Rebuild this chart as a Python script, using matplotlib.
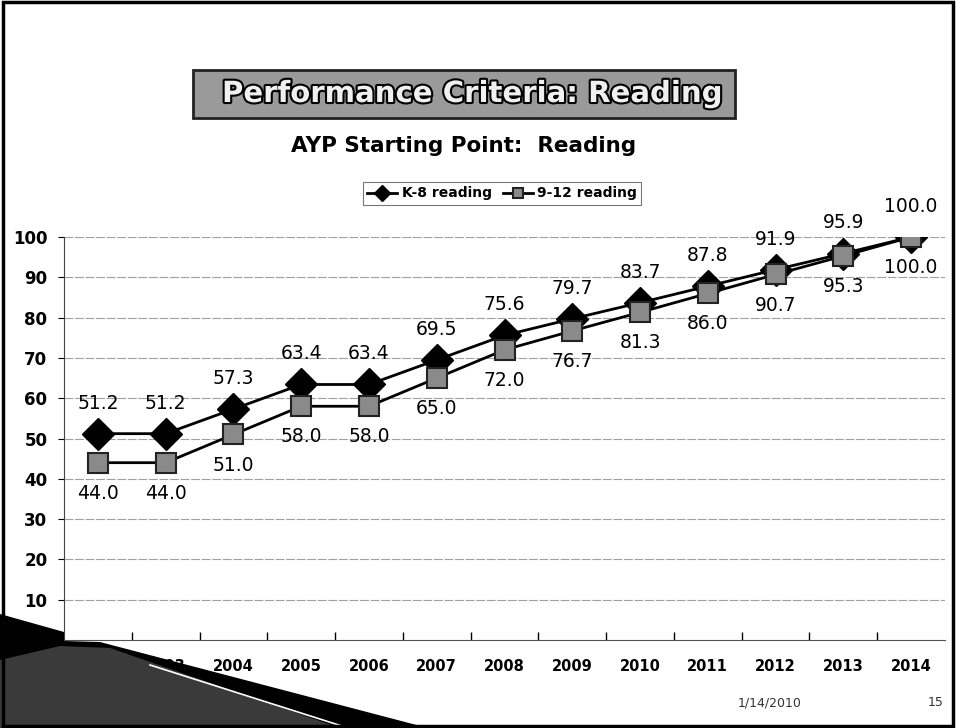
import matplotlib
matplotlib.use('Agg')
import matplotlib.pyplot as plt
import matplotlib.patheffects as pe
from matplotlib.patches import Polygon, Rectangle

# Données
annees = ['2002', '2003', '2004', '2005', '2006', '2007', '2008',
          '2009', '2010', '2011', '2012', '2013', '2014']
k8_lecture = [51.2, 51.2, 57.3, 63.4, 63.4, 69.5, 75.6, 79.7, 83.7, 87.8, 91.9, 95.9, 100.0]
lecture_9_12 = [44.0, 44.0, 51.0, 58.0, 58.0, 65.0, 72.0, 76.7, 81.3, 86.0, 90.7, 95.3, 100.0]
y_ticks = [10, 20, 30, 40, 50, 60, 70, 80, 90, 100]

W, H = 956, 728


def fx(x):
    return x / W


def fy(y):
    return 1 - y / H


fig = plt.figure(figsize=(W / 100, H / 100), dpi=100)
fig.patch.set_facecolor('white')

# Axes principal
ax = fig.add_axes([fx(64), fy(640), fx(945) - fx(64), fy(237) - fy(640)])
x = list(range(len(annees)))
ax.set_xlim(-0.5, len(annees) - 0.5)
ax.set_ylim(0, 100)
ax.set_yticks(y_ticks)
ax.set_yticklabels([str(v) for v in y_ticks], fontsize=12, fontweight='bold')
ax.set_xticks(x)
ax.set_xticklabels(annees, fontsize=10.5, fontweight='bold')
ax.set_xticks([i + 0.5 for i in x[:-1]], minor=True)
ax.tick_params(axis='x', which='major', length=0, pad=14)
ax.tick_params(axis='x', which='minor', length=6, direction='in', width=1)
ax.tick_params(axis='y', length=4, direction='out', pad=8)
ax.grid(axis='y', color='#a0a0a0', linewidth=0.8, linestyle=(0, (8, 1.5)))
ax.set_axisbelow(True)
for s in ['top', 'right']:
    ax.spines[s].set_visible(False)
ax.spines['left'].set_color('#444444')
ax.spines['bottom'].set_color('#555555')

ax.plot(x, k8_lecture, color='black', lw=2, marker='D', ms=16,
        markerfacecolor='black', markeredgecolor='black', label='K-8 reading', zorder=3)
ax.plot(x, lecture_9_12, color='black', lw=2, marker='s', ms=15,
        markerfacecolor='#8a8a8a', markeredgecolor='#222222', mew=1.5,
        label='9-12 reading', zorder=4)

for xi, v in zip(x, k8_lecture):
    ax.annotate(f'{v:.1f}', (xi, v), xytext=(0, 22), textcoords='offset points',
                ha='center', va='center', fontsize=13.5)
for xi, v in zip(x, lecture_9_12):
    ax.annotate(f'{v:.1f}', (xi, v), xytext=(0, -22), textcoords='offset points',
                ha='center', va='center', fontsize=13.5)

leg = ax.legend(loc='center', bbox_to_anchor=((502 - 64) / 881, 1 + (237 - 193.5) / 403), ncol=2,
                frameon=True, fancybox=False, edgecolor='#555555',
                handlelength=2.2, handletextpad=0.3,
                columnspacing=0.8, borderpad=0.3, markerscale=0.5,
                prop={'weight': 'bold', 'size': 10})
leg.get_frame().set_linewidth(0.8)

# Titre du graphique
fig.text(fx(464), fy(146), 'AYP Starting Point:  Reading', ha='center', va='center',
         fontsize=15.5, fontweight='bold')

# Bandeau titre de la diapositive
fig.patches.append(Rectangle((fx(193), fy(118)), fx(735) - fx(193), fy(70) - fy(118),
                             transform=fig.transFigure, facecolor='#9a9a9a',
                             edgecolor='#222222', linewidth=2, zorder=1))
fig.text(fx(472), fy(94), 'Performance Criteria: Reading', ha='center', va='center',
         fontsize=21, fontweight='bold', color='#f0f0f0',
         path_effects=[pe.withStroke(linewidth=3, foreground='black')], zorder=2)

# Décor coin inférieur gauche
coin = Polygon([(fx(0), fy(614)), (fx(64), fy(632)), (fx(64), fy(641)), (fx(100), fy(642)),
                (fx(428), fy(728)), (fx(0), fy(728))],
               closed=True, transform=fig.transFigure, facecolor='black',
               edgecolor='none', zorder=5)
fig.patches.append(coin)
coin2 = Polygon([(fx(0), fy(660)), (fx(60), fy(646)), (fx(110), fy(648)),
                 (fx(340), fy(728)), (fx(0), fy(728))],
                closed=True, transform=fig.transFigure, facecolor='#3a3a3a',
                edgecolor='none', zorder=6)
fig.patches.append(coin2)
fig.lines.append(plt.Line2D([fx(150), fx(345)], [fy(665), fy(727)],
                            transform=fig.transFigure, color='white', lw=1.2, zorder=7))

# Pied de page
fig.text(fx(770), fy(703), '1/14/2010', ha='center', va='center', fontsize=9, color='#333333')
fig.text(fx(936), fy(703), '15', ha='center', va='center', fontsize=9, color='#333333')

# Cadre de la diapositive
fig.patches.append(Rectangle((0.003, 0.003), 0.994, 0.994, transform=fig.transFigure,
                             facecolor='none', edgecolor='black', linewidth=2.5, zorder=8))

fig.savefig('out.png', dpi=100)
